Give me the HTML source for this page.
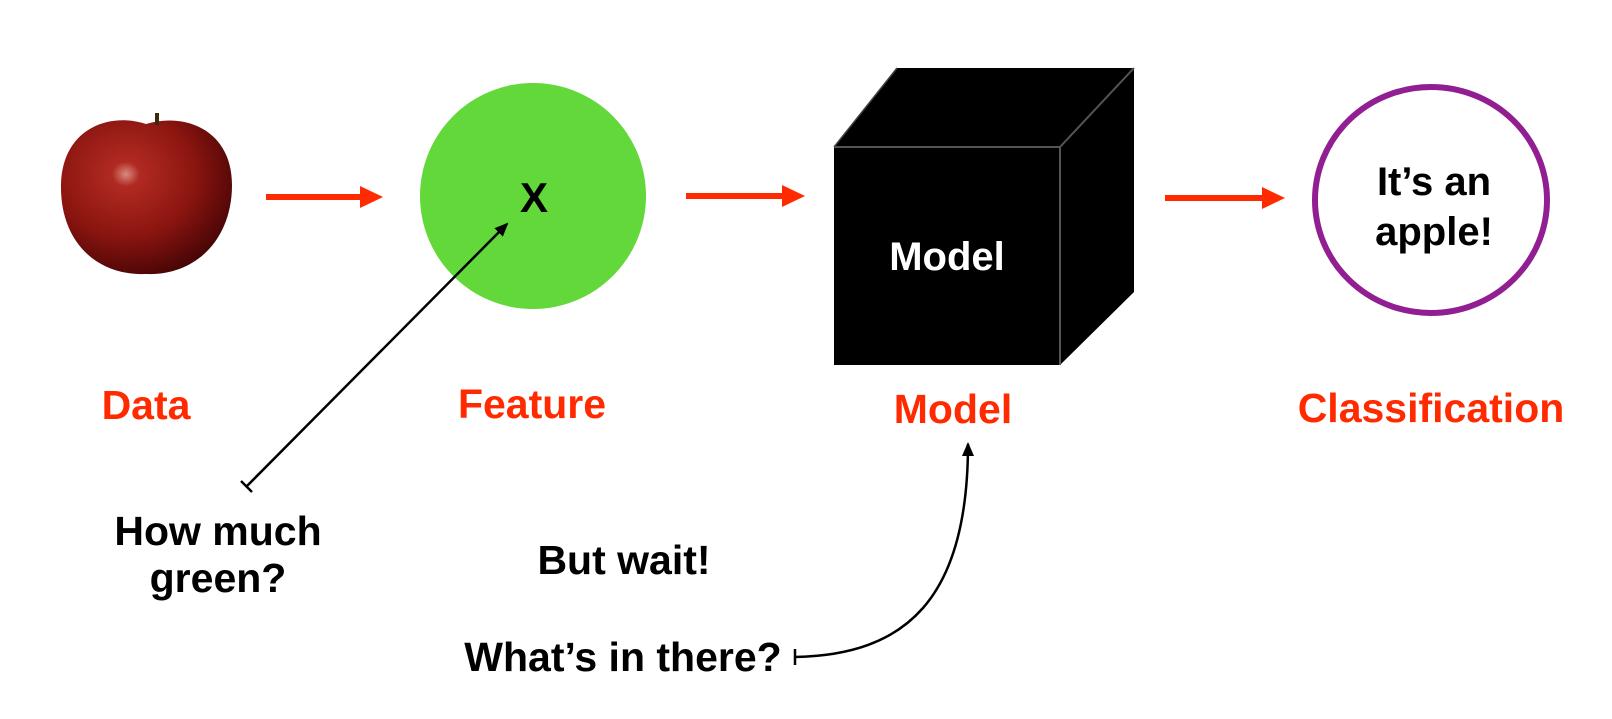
<!DOCTYPE html>
<html><head><style>
body{margin:0;background:#fff;}
svg text{font-family:"Liberation Sans",Arial,sans-serif;font-weight:bold;}
</style></head><body>
<svg width="1612" height="714" viewBox="0 0 1612 714" xmlns="http://www.w3.org/2000/svg">
<defs>
<radialGradient id="ap" cx="0.38" cy="0.35" r="0.8">
<stop offset="0" stop-color="#d98a80"/><stop offset="0.1" stop-color="#b02a22"/><stop offset="0.5" stop-color="#8c1510"/><stop offset="0.85" stop-color="#4a0606"/><stop offset="1" stop-color="#200202"/>
</radialGradient>
<marker id="ah" markerWidth="14" markerHeight="14" refX="12" refY="7" orient="auto" markerUnits="userSpaceOnUse"><path d="M0,1 L14,7 L0,13 z" fill="#000"/></marker>
</defs>
<!-- apple -->
<path d="M146,124 C110,112 62,128 61,185 C60,240 95,276 146,274 C195,276 232,240 232,185 C232,130 185,112 146,124 Z" fill="url(#ap)"/>
<rect x="155" y="113" width="4" height="12" fill="#3a2a10"/>
<!-- arrows red -->
<g fill="#ff2a00">
<rect x="266" y="194" width="95" height="6"/><path d="M360,186 L383,197 L360,208 z"/>
<rect x="686" y="193" width="97" height="6"/><path d="M782,185 L805,196 L782,207 z"/>
<rect x="1165" y="195" width="98" height="6"/><path d="M1262,187 L1285,198 L1262,209 z"/>
</g>
<!-- green circle -->
<circle cx="533" cy="196" r="113" fill="#62d83a"/>
<text x="534" y="212" font-size="42" text-anchor="middle" fill="#000">X</text>
<!-- cube -->
<path d="M834,147 L897,68 L1134,68 L1134,292 L1060,365 L834,365 Z" fill="#000"/>
<line x1="834" y1="147" x2="1060" y2="147" stroke="#555" stroke-width="2"/>
<line x1="1060" y1="147" x2="1060" y2="365" stroke="#555" stroke-width="2"/>
<line x1="1060" y1="147" x2="1134" y2="68" stroke="#555" stroke-width="2"/>
<line x1="834" y1="147" x2="897" y2="68" stroke="#444" stroke-width="1.5"/>
<text x="947" y="270" font-size="40" text-anchor="middle" fill="#fff">Model</text>
<!-- purple circle -->
<ellipse cx="1431" cy="200" rx="116" ry="113" fill="none" stroke="#921f92" stroke-width="6"/>
<text x="1434" y="195" font-size="40" text-anchor="middle" fill="#000">It’s an</text>
<text x="1434" y="245" font-size="40" text-anchor="middle" fill="#000">apple!</text>
<!-- labels -->
<g fill="#ff2a00" font-size="41" text-anchor="middle">
<text x="146" y="419">Data</text>
<text x="532" y="418">Feature</text>
<text x="953" y="423">Model</text>
<text x="1431" y="422">Classification</text>
</g>
<g fill="#000" font-size="41" text-anchor="middle">
<text x="218" y="545">How much</text>
<text x="218" y="592">green?</text>
<text x="624" y="574">But wait!</text>
<text x="623" y="671">What’s in there?</text>
</g>
<!-- black connectors -->
<line x1="247" y1="486" x2="507" y2="224" stroke="#000" stroke-width="2.5" marker-end="url(#ah)"/>
<line x1="241" y1="481" x2="252" y2="492" stroke="#000" stroke-width="2.5"/>
<path d="M795,657 C905,655 968,600 968,444" fill="none" stroke="#000" stroke-width="2.5" marker-end="url(#ah)"/>
<line x1="795" y1="649" x2="795" y2="665" stroke="#000" stroke-width="2.5"/>
</svg>
</body></html>
